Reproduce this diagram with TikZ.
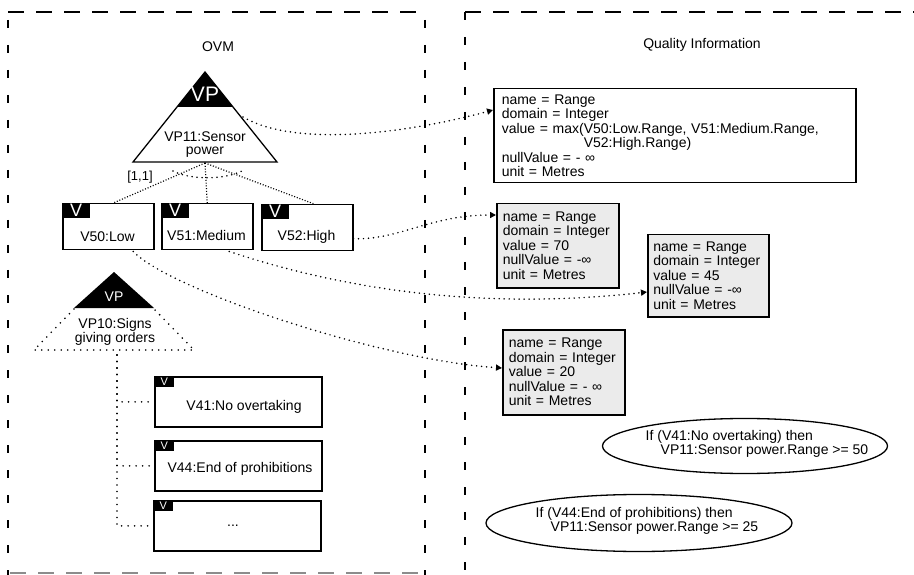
\documentclass[tikz,border=0pt]{standalone}
\usepackage{fontspec}
\setmainfont{Liberation Sans}
\usetikzlibrary{arrows.meta,shapes.geometric,calc}
\begin{document}
\begin{tikzpicture}[x=1pt,y=-1pt,
  every node/.style={font=\fontsize{14}{14.5}\selectfont, inner sep=0pt},
  hdash/.style={line width=1.5pt, dash pattern=on 16pt off 12pt},
  vdash/.style={line width=1.5pt, dash pattern=on 8pt off 17pt},
  dotline/.style={line width=1.7pt, line cap=round, dash pattern=on 0pt off 5pt},
  sparsedot/.style={line width=1.8pt, line cap=round, dash pattern=on 0pt off 6.5pt},
  treeline/.style={line width=1.2pt, dash pattern=on 1pt off 1.8pt},
  conn/.style={dotline, -{Triangle[length=6pt,width=6pt]}},
  vbox/.style={draw, line width=1.5pt, minimum width=91pt, minimum height=46pt, anchor=north west},
  vtab/.style={fill=black, text=white, anchor=north west, minimum width=28pt, minimum height=15pt, font=\fontsize{18}{18}\selectfont},
  lbox/.style={draw, line width=1.8pt, minimum width=167pt, minimum height=50pt, anchor=north west},
  ltab/.style={fill=black, text=white, anchor=north west, minimum width=20pt, minimum height=11pt, font=\fontsize{11}{11}\selectfont},
  qbox/.style={draw, line width=1.5pt, anchor=north west, align=left},
  gbox/.style={qbox, fill=black!8},
  cons/.style={draw, ellipse, line width=1.3pt, inner sep=0pt}
]
\useasboundingbox (0,0) rectangle (914,575);

% frames
\draw[hdash] (8,12) -- (425,12);
\draw[vdash] (8,20) -- (8,575);
\draw[vdash] (425,20) -- (425,575);
\draw[hdash, black!45] (10,573) -- (425,573);
\draw[hdash] (465,12) -- (914,12);
\draw[vdash] (465,12) -- (465,575);

\node (ovm) at (218,47) {OVM};
\node (qi) at (702,45) {Quality Information};

% VP11 triangle
\coordinate (t1a) at (205,72);
\coordinate (t1l) at (133,162);
\coordinate (t1r) at (277,162);
\coordinate (t1b) at (205,163);
\coordinate (vp11r) at (243,117);
\draw[line width=1.3pt] (t1a) -- (t1l) -- (t1r) -- cycle;
\fill (t1a) -- (177,107) -- (233,107) -- cycle;
\node[text=white, font=\fontsize{21}{21}\selectfont] (vp11tag) at (205,94) {VP};
\node[align=center, font=\fontsize{14}{13}\selectfont] (vp11) at (205,145) {VP11:Sensor\\power};
\node[font=\fontsize{13}{13}\selectfont] (card) at (140,177) {[1,1]};

% V boxes
\node[vbox] (v50) at (62,203) {};
\node[vbox] (v51) at (161,203) {};
\node[vbox] (v52) at (261,204) {};
\node[vtab] (v50t) at (v50.north west) {V};
\node[vtab] (v51t) at (v51.north west) {V};
\node[vtab] (v52t) at (v52.north west) {V};
\node (v50l) at (107.5,237) {V50:Low};
\node (v51l) at (206.5,235) {V51:Medium};
\node (v52l) at (306.5,237) {V52:High};

\draw[treeline] (t1b) -- ($(v50.north)+(5,0)$);
\draw[treeline] (t1b) -- (v51.north);
\draw[treeline] (t1b) -- ($(v52.north)+(7,0)$);
\draw[dotline] (173,171) .. controls (190,180) and (224,180) .. (242,171);

% VP10 triangle
\fill (114,272) -- (74,308) -- (154,308) -- cycle;
\node[text=white, font=\fontsize{14}{14}\selectfont] (vp10tag) at (114,297) {VP};
\draw[sparsedot] (74,309) -- (34,350) -- (194,350) -- (154,309);
\node[align=center, font=\fontsize{14}{13}\selectfont] (vp10) at (115,332) {VP10:Signs\\giving orders};
\coordinate (vp10b) at (117,355);

\node[lbox] (v41) at (154,376) {};
\node[lbox] (v44) at (154,440) {};
\node[lbox] (vx) at (153,500) {};
\node[ltab] (v41t) at (v41.north west) {V};
\node[ltab] (v44t) at (v44.north west) {V};
\node[ltab] (vxt) at (vx.north west) {V};
\node (v41l) at (244,407) {V41:No overtaking};
\node (v44l) at (240,469) {V44:End of prohibitions};
\node (vxl) at (233,526) {...};

\draw[sparsedot] (vp10b) |- (vx.west);
\draw[sparsedot] (vp10b) |- (v41.west);
\draw[sparsedot] (vp10b) |- (v44.west);

% quality boxes
\node[qbox, minimum width=362pt, minimum height=94pt, text width=346pt, inner xsep=8pt] (q1) at (493,88) {name = Range\\
domain = Integer\\
value = max(V50:Low.Range, V51:Medium.Range,\\
\phantom{value = max(}V52:High.Range)\\
nullValue = - ∞\\
unit = Metres};
\node[gbox, minimum width=122pt, minimum height=84pt, text width=110pt, inner xsep=6pt] (q2) at (496,203) {name = Range\\
domain = Integer\\
value = 70\\
nullValue = -∞\\
unit = Metres};
\node[gbox, minimum width=121pt, minimum height=82pt, text width=110pt, inner xsep=5.5pt] (q3) at (647,234) {name = Range\\
domain = Integer\\
value = 45\\
nullValue = -∞\\
unit = Metres};
\node[gbox, minimum width=122pt, minimum height=85pt, text width=110pt, inner xsep=6pt] (q4) at (502,329) {name = Range\\
domain = Integer\\
value = 20\\
nullValue = - ∞\\
unit = Metres};

% constraints
\node[cons, minimum width=285pt, minimum height=55pt] (e1) at (745,446) {};
\node[align=left] (e1t) at (757,444) {If (V41:No overtaking) then\\\hspace*{15pt}VP11:Sensor power.Range >= 50};
\node[cons, minimum width=306pt, minimum height=57pt] (e2) at (639,523) {};
\node[align=left] (e2t) at (647,521) {If (V44:End of prohibitions) then\\\hspace*{15pt}VP11:Sensor power.Range >= 25};

% connectors
\draw[conn] (vp11r) .. controls (300,150) and (420,130) .. ($(q1.north west)+(0,22)$);
\draw[conn] ($(v52.east)+(0,11)$) .. controls (400,240) and (430,215) .. ($(q2.north west)+(0,12)$);
\draw[conn] ($(v51.south)+(22,1)$) .. controls (330,285) and (470,312) .. ($(q3.north west)+(0,58)$);
\draw[conn] ($(v50.south)+(25,1)$) .. controls (170,290) and (380,360) .. ($(q4.north west)+(0,39)$);
\end{tikzpicture}
\end{document}
